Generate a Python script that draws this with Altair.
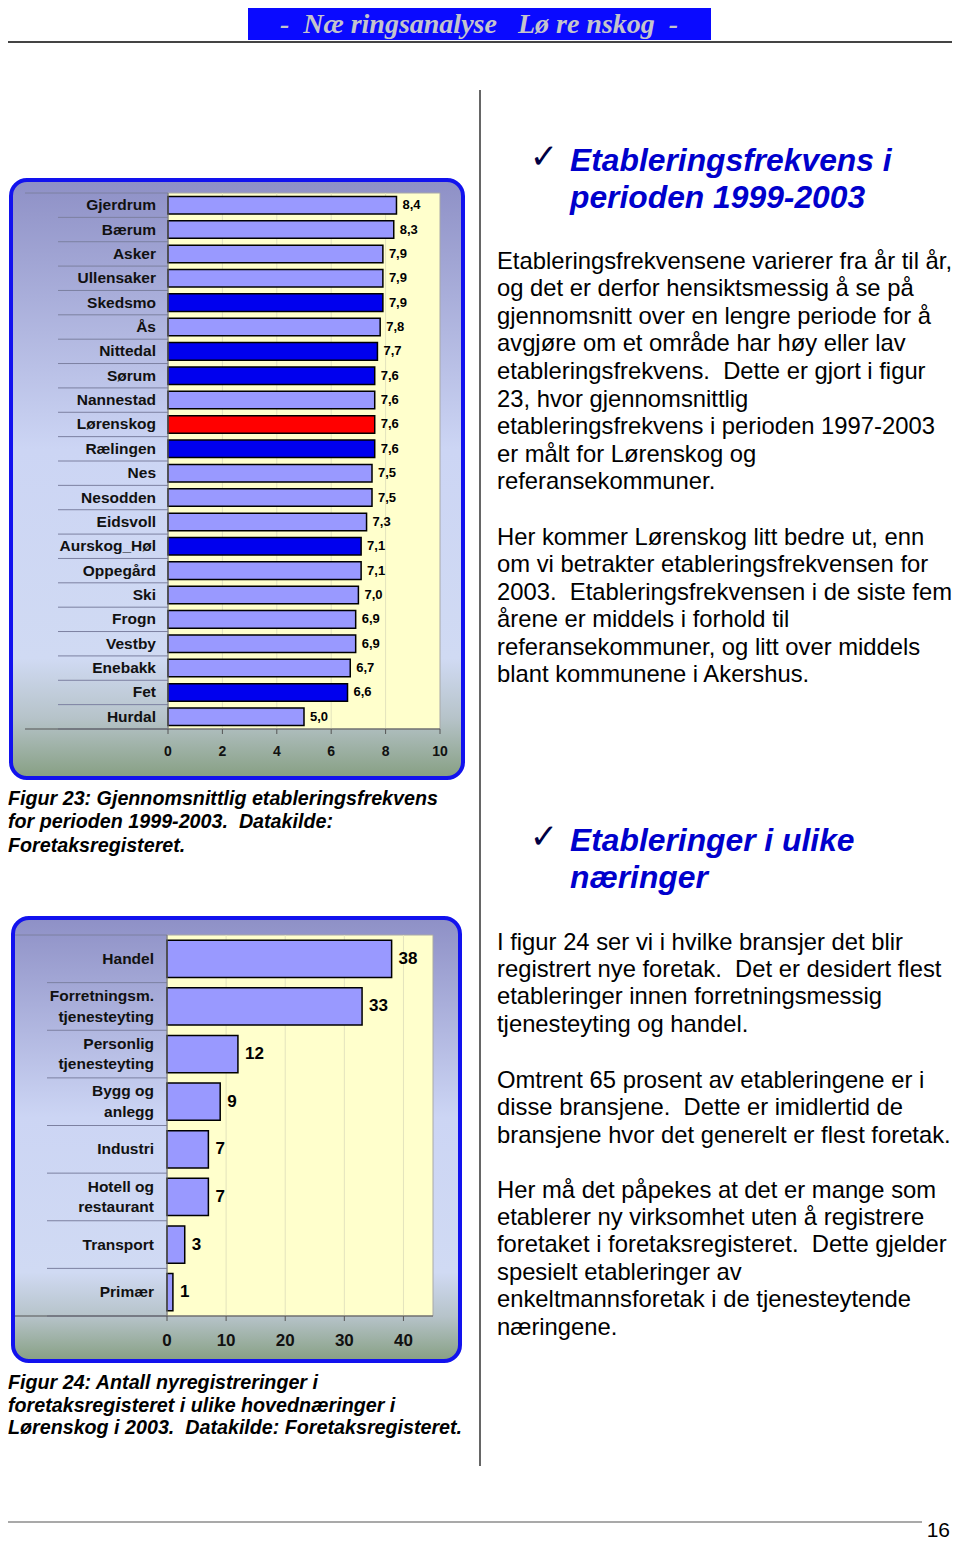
import altair as alt
import pandas as pd

# ---------------- data ----------------
municipalities = ["Gjerdrum", "Bærum", "Asker", "Ullensaker", "Skedsmo", "Ås", "Nittedal",
                  "Sørum", "Nannestad", "Lørenskog", "Rælingen", "Nes", "Nesodden", "Eidsvoll",
                  "Aurskog_Høl", "Oppegård", "Ski", "Frogn", "Vestby", "Enebakk", "Fet", "Hurdal"]
frequency = [8.4, 8.3, 7.9, 7.9, 7.9, 7.8, 7.7, 7.6, 7.6, 7.6, 7.6, 7.5, 7.5, 7.3,
             7.1, 7.1, 7.0, 6.9, 6.9, 6.7, 6.6, 5.0]
group = ["ref", "ref", "ref", "ref", "nabo", "ref", "nabo", "nabo", "ref", "lor", "nabo",
         "ref", "ref", "ref", "nabo", "ref", "ref", "ref", "ref", "ref", "nabo", "ref"]
freq_ticks = [0, 2, 4, 6, 8, 10]

industries = ["Handel", "Forretningsm.\ntjenesteyting", "Personlig\ntjenesteyting",
              "Bygg og\nanlegg", "Industri", "Hotell og\nrestaurant", "Transport", "Primær"]
registrations = [38, 33, 12, 9, 7, 7, 3, 1]
count_ticks = [0, 10, 20, 30, 40]

NB = "\u00a0"  # keeps the double spaces of the original text visible
header_text = "-" + NB + " Næ ringsanalyse " + NB + " Lø re nskog " + NB + "-"
heading1 = ["Etableringsfrekvens i", "perioden 1999-2003"]
heading2 = ["Etableringer i ulike", "næringer"]
para1 = ["Etableringsfrekvensene varierer fra år til år,",
         "og det er derfor hensiktsmessig å se på",
         "gjennomsnitt over en lengre periode for å",
         "avgjøre om et område har høy eller lav",
         "etableringsfrekvens." + NB + " Dette er gjort i figur",
         "23, hvor gjennomsnittlig",
         "etableringsfrekvens i perioden 1997-2003",
         "er målt for Lørenskog og",
         "referansekommuner."]
para2 = ["Her kommer Lørenskog litt bedre ut, enn",
         "om vi betrakter etableringsfrekvensen for",
         "2003." + NB + " Etableringsfrekvensen i de siste fem",
         "årene er middels i forhold til",
         "referansekommuner, og litt over middels",
         "blant kommunene i Akershus."]
para3 = ["I figur 24 ser vi i hvilke bransjer det blir",
         "registrert nye foretak." + NB + " Det er desidert flest",
         "etableringer innen forretningsmessig",
         "tjenesteyting og handel."]
para4 = ["Omtrent 65 prosent av etableringene er i",
         "disse bransjene." + NB + " Dette er imidlertid de",
         "bransjene hvor det generelt er flest foretak."]
para5 = ["Her må det påpekes at det er mange som",
         "etablerer ny virksomhet uten å registrere",
         "foretaket i foretaksregisteret." + NB + " Dette gjelder",
         "spesielt etableringer av",
         "enkeltmannsforetak i de tjenesteytende",
         "næringene."]
caption23 = ["Figur 23: Gjennomsnittlig etableringsfrekvens",
             "for perioden 1999-2003." + NB + " Datakilde:",
             "Foretaksregisteret."]
caption24 = ["Figur 24: Antall nyregistreringer i",
             "foretaksregisteret i ulike hovednæringer i",
             "Lørenskog i 2003." + NB + " Datakilde: Foretaksregisteret."]
page_number = "16"

# ---------------- layout helpers ----------------
W, H = 944, 1533
OFF = 8


def X(v):
    return v - OFF


def Y(v):
    return v - OFF


one = pd.DataFrame({"k": [0]})
SANS = "Liberation Sans"


def text_block(lines, x, y, size, weight="normal", style="normal", color="black",
               font=SANS, align="left", baseline="alphabetic", line_height=None):
    kw = dict(text=lines if len(lines) > 1 else lines[0], align=align, baseline=baseline,
              fontSize=size, fontWeight=weight, fontStyle=style, color=color, font=font)
    if line_height:
        kw["lineHeight"] = line_height
    return alt.Chart(one).mark_text(**kw).encode(x=alt.value(X(x)), y=alt.value(Y(y)))


def hline(x1, x2, y, color, w=1):
    return alt.Chart(one).mark_rule(color=color, strokeWidth=w).encode(
        x=alt.value(X(x1)), x2=alt.value(X(x2)), y=alt.value(Y(y)))


def vline(x, y1, y2, color, w=1):
    return alt.Chart(one).mark_rule(color=color, strokeWidth=w).encode(
        x=alt.value(X(x)), y=alt.value(Y(y1)), y2=alt.value(Y(y2)))


def box(x1, y1, x2, y2, **kw):
    return alt.Chart(one).mark_rect(**kw).encode(
        x=alt.value(X(x1)), x2=alt.value(X(x2)), y=alt.value(Y(y1)), y2=alt.value(Y(y2)))


frame_grad = alt.Gradient(
    gradient="linear", x1=0, y1=0, x2=0, y2=1,
    stops=[alt.GradientStop(offset=0.0, color="#8e90c6"),
           alt.GradientStop(offset=0.45, color="#ccd5f4"),
           alt.GradientStop(offset=0.80, color="#d0daf3"),
           alt.GradientStop(offset=0.90, color="#b6c3c9"),
           alt.GradientStop(offset=1.0, color="#869f82")])


def frame(x1, y1, x2, y2):
    return box(x1, y1, x2, y2, cornerRadius=16, stroke="#1212ee", strokeWidth=4, fill=frame_grad)


layers = []

# ---------------- page decorations ----------------
layers.append(box(248, 8, 711, 40, fill="#0a0aff"))
layers.append(text_block([header_text], 479, 33, 28, weight="bold", style="italic",
                         color="#c4c4cc", font="Liberation Serif", align="center"))
layers.append(hline(0, 960, 42, "#444444", 2))
layers.append(vline(480, 90, 1466, "#333333", 1.5))
layers.append(hline(0, 922, 1522, "#555555", 1.2))
layers.append(text_block([page_number], 950, 1537, 21, align="right"))

# ---------------- chart 1: establishment frequency ----------------
P1L, P1R, P1T, P1B = 168, 440, 193, 729
layers.append(frame(11, 180, 463, 778))
layers.append(box(P1L, P1T, P1R, P1B, fill="#ffffcc", stroke="#a8a8a8", strokeWidth=1))

df1 = pd.DataFrame({"Kommune": municipalities, "Frekvens": frequency, "Gruppe": group})
dft1 = pd.DataFrame({"t": freq_ticks})
xs1 = alt.Scale(domain=[0, 10], range=[X(P1L), X(P1R)], nice=False)
ys1 = alt.Scale(domain=municipalities, range=[Y(P1T), Y(P1B)], paddingInner=0, paddingOuter=0)

layers.append(alt.Chart(dft1).transform_filter("datum.t > 0 && datum.t < 10").mark_rule(
    color="#e3e3bd", strokeWidth=1).encode(
    x=alt.X("t:Q", scale=xs1, axis=None), y=alt.value(Y(P1T)), y2=alt.value(Y(P1B))))
layers.append(alt.Chart(df1).mark_rule(color="#7c80a0", strokeWidth=1).encode(
    y=alt.Y("Kommune:N", scale=ys1, axis=None, sort=None, bandPosition=1),
    x=alt.value(X(58)), x2=alt.value(X(P1L))))
layers.append(hline(25, P1L, P1T, "#7c80a0", 1))
layers.append(alt.Chart(df1).mark_bar(height={"band": 0.72}, stroke="black", strokeWidth=1.5).encode(
    x=alt.X("Frekvens:Q", scale=xs1, axis=None),
    y=alt.Y("Kommune:N", scale=ys1, axis=None, sort=None),
    color=alt.Color("Gruppe:N", scale=alt.Scale(domain=["ref", "nabo", "lor"],
                                                range=["#9999ff", "#0000ee", "#ff0000"]),
                    legend=None)))
layers.append(alt.Chart(df1).transform_calculate(
    label="replace(format(datum.Frekvens, '.1f'), '.', ',')").mark_text(
    align="left", baseline="middle", dx=6, fontSize=13, fontWeight="bold", font=SANS,
    color="black").encode(
    x=alt.X("Frekvens:Q", scale=xs1, axis=None),
    y=alt.Y("Kommune:N", scale=ys1, axis=None, sort=None),
    text="label:N"))
layers.append(alt.Chart(df1).mark_text(
    align="right", baseline="middle", fontSize=15.5, fontWeight="bold", font=SANS,
    color="#111111").encode(
    y=alt.Y("Kommune:N", scale=ys1, axis=None, sort=None),
    x=alt.value(X(156)), text="Kommune:N"))
layers.append(hline(25, P1R, P1B, "#555555", 1.2))
layers.append(vline(P1L, P1T, P1B, "#777777", 1))
layers.append(alt.Chart(dft1).mark_rule(color="#555555").encode(
    x=alt.X("t:Q", scale=xs1, axis=None), y=alt.value(Y(P1B)), y2=alt.value(Y(P1B + 5))))
layers.append(alt.Chart(dft1).mark_text(
    baseline="middle", fontSize=14, fontWeight="bold", font=SANS, color="#111111").encode(
    x=alt.X("t:Q", scale=xs1, axis=None), y=alt.value(Y(752)), text="t:Q"))

layers.append(text_block(caption23, 8, 805, 19.7, weight="bold", style="italic",
                         line_height=23.3))

# ---------------- chart 2: registrations by industry ----------------
P2L, P2R, P2T, P2B = 167, 433, 935, 1316
layers.append(frame(13, 918, 460, 1361))
layers.append(box(P2L, P2T, P2R, P2B, fill="#ffffcc", stroke="#a8a8a8", strokeWidth=1))

df2 = pd.DataFrame({"Næring": industries, "Antall": registrations})
dft2 = pd.DataFrame({"t": count_ticks})
xs2 = alt.Scale(domain=[0, 45], range=[X(P2L), X(P2R)], nice=False)
ys2 = alt.Scale(domain=industries, range=[Y(P2T), Y(P2B)], paddingInner=0, paddingOuter=0)

layers.append(alt.Chart(dft2).transform_filter("datum.t > 0").mark_rule(
    color="#e3e3bd", strokeWidth=1).encode(
    x=alt.X("t:Q", scale=xs2, axis=None), y=alt.value(Y(P2T)), y2=alt.value(Y(P2B))))
layers.append(alt.Chart(df2).mark_rule(color="#7c80a0", strokeWidth=1).encode(
    y=alt.Y("Næring:N", scale=ys2, axis=None, sort=None, bandPosition=1),
    x=alt.value(X(47)), x2=alt.value(X(P2L))))
layers.append(hline(15, P2L, P2T, "#7c80a0", 1))
layers.append(alt.Chart(df2).mark_bar(height={"band": 0.78}, stroke="black", strokeWidth=1.5,
                                      color="#9999ff").encode(
    x=alt.X("Antall:Q", scale=xs2, axis=None),
    y=alt.Y("Næring:N", scale=ys2, axis=None, sort=None)))
layers.append(alt.Chart(df2).mark_text(
    align="left", baseline="middle", dx=7, fontSize=17, fontWeight="bold", font=SANS,
    color="black").encode(
    x=alt.X("Antall:Q", scale=xs2, axis=None),
    y=alt.Y("Næring:N", scale=ys2, axis=None, sort=None),
    text="Antall:Q"))
# single-line industry labels
layers.append(alt.Chart(df2).transform_filter("indexof(datum['Næring'], '\\n') < 0").mark_text(
    align="right", baseline="middle", fontSize=15.5,
    fontWeight="bold", font=SANS, color="#111111").encode(
    y=alt.Y("Næring:N", scale=ys2, axis=None, sort=None),
    x=alt.value(X(154)), text="Næring:N"))
# two-line industry labels, centred on their band
layers.append(alt.Chart(df2).transform_filter("indexof(datum['Næring'], '\\n') >= 0").mark_text(
    align="right", baseline="middle", lineBreak="\n", lineHeight=20.5, dy=-10.25, fontSize=15.5,
    fontWeight="bold", font=SANS, color="#111111").encode(
    y=alt.Y("Næring:N", scale=ys2, axis=None, sort=None),
    x=alt.value(X(154)), text="Næring:N"))
layers.append(hline(15, P2R, P2B, "#555555", 1.2))
layers.append(vline(P2L, P2T, P2B, "#777777", 1))
layers.append(alt.Chart(dft2).mark_rule(color="#555555").encode(
    x=alt.X("t:Q", scale=xs2, axis=None), y=alt.value(Y(P2B)), y2=alt.value(Y(P2B + 5))))
layers.append(alt.Chart(dft2).mark_text(
    baseline="middle", fontSize=17, fontWeight="bold", font=SANS, color="#111111").encode(
    x=alt.X("t:Q", scale=xs2, axis=None), y=alt.value(Y(1341)), text="t:Q"))

layers.append(text_block(caption24, 8, 1389, 19.7, weight="bold", style="italic",
                         line_height=22.7))

# ---------------- right column text ----------------
CHECK = "✓"
layers.append(text_block([CHECK], 544, 168, 34, color="#000044", font="DejaVu Sans", align="center"))
layers.append(text_block(heading1, 570, 171, 31.8, weight="bold", style="italic",
                         color="#0000cc", line_height=36.5))
layers.append(text_block(para1, 497, 268.5, 23.8, line_height=27.6))
layers.append(text_block(para2, 497, 544.5, 23.8, line_height=27.5))

layers.append(text_block([CHECK], 544, 848, 34, color="#000044", font="DejaVu Sans", align="center"))
layers.append(text_block(heading2, 570, 851, 31.8, weight="bold", style="italic",
                         color="#0000cc", line_height=37))
layers.append(text_block(para3, 497, 949.5, 23.8, line_height=27.4))
layers.append(text_block(para4, 497, 1087.5, 23.8, line_height=27.5))
layers.append(text_block(para5, 497, 1197.5, 23.8, line_height=27.4))

chart = alt.layer(*layers).resolve_scale(
    x="independent", y="independent", color="independent"
).properties(
    width=W, height=H, autosize="none", padding=0, background="white"
).configure_view(stroke=None)

chart.save("out.html", embed_options={"renderer": "svg", "actions": False})
